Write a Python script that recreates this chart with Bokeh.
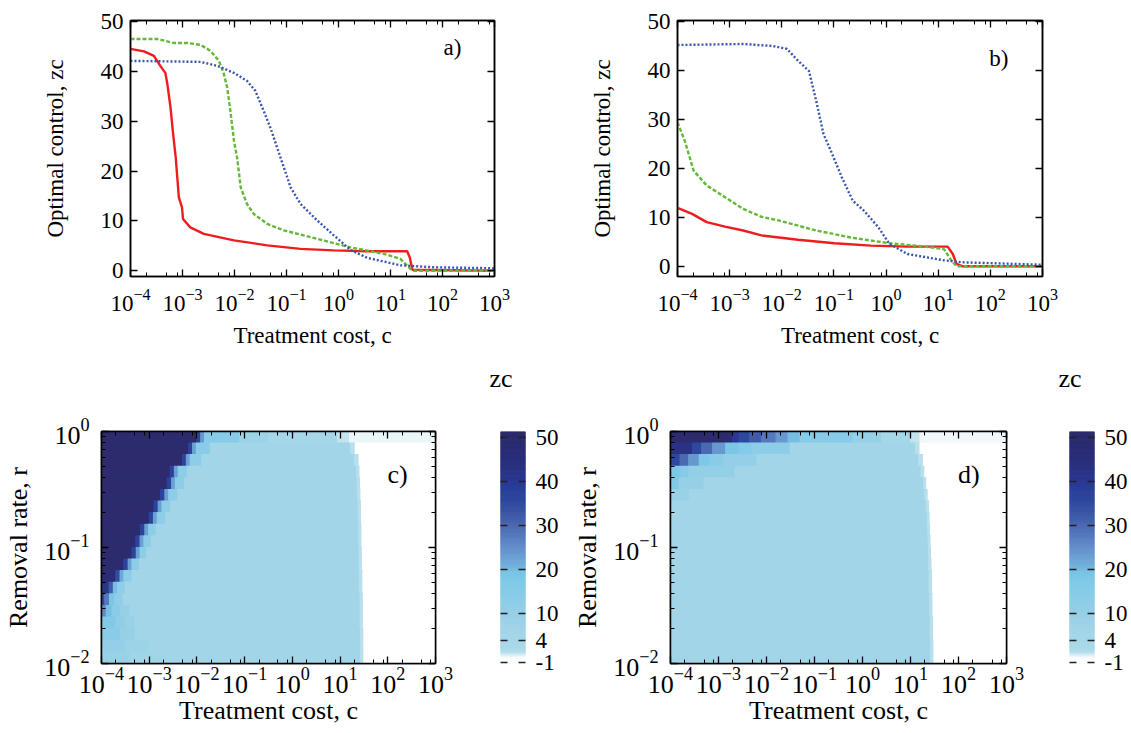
import numpy as np
from bokeh.plotting import figure
from bokeh.models import (LogAxis, LinearAxis, FixedTicker, Label, ColumnDataSource, Title,
                          LinearColorMapper, Range1d, LogTickFormatter, CustomJSTickFormatter)
from bokeh.layouts import column, row
from bokeh.embed import file_html
from bokeh.resources import INLINE

FONT = "Liberation Serif"

# ---------------- data: panel a (log10 of treatment cost, optimal control) ----------------
A_RED_LOGC = [-4.0, -3.74, -3.55, -3.42, -3.33, -3.29, -3.23, -3.18, -3.13, -3.10, -3.07, -3.01,
              -2.99, -2.85, -2.59, -2.01, -1.37, -0.73, -0.09, 0.55, 1.32, 1.37, 1.42, 3.0]
A_RED_ZC = [44.5, 44.0, 43.1, 41.0, 39.7, 37.4, 32.7, 27.4, 22.7, 18.7, 14.7, 12.7,
            10.4, 8.7, 7.4, 6.1, 5.1, 4.4, 4.1, 3.9, 3.9, 2.7, 0.2, 0.0]
A_GREEN_LOGC = [-4.0, -3.49, -3.17, -2.91, -2.65, -2.46, -2.30, -2.21, -2.14, -2.08, -2.01, -1.95,
                -1.88, -1.76, -1.63, -1.37, -1.05, -0.41, 0.23, 0.87, 1.19, 1.38, 1.45, 3.0]
A_GREEN_ZC = [46.5, 46.5, 45.7, 45.7, 45.3, 44.1, 42.1, 39.7, 36.7, 32.1, 26.1, 22.7,
              16.7, 13.4, 11.4, 9.4, 8.1, 6.4, 4.7, 3.4, 2.4, 0.4, 0.0, 0.0]
A_BLUE_LOGC = [-4.0, -2.65, -2.33, -2.01, -1.76, -1.60, -1.44, -1.31, -1.18, -1.05, -0.92, -0.73,
               -0.41, -0.09, 0.23, 0.55, 1.19, 1.83, 3.0]
A_BLUE_ZC = [42.1, 41.9, 41.1, 39.7, 38.1, 36.1, 32.1, 28.7, 24.7, 20.7, 16.7, 13.4,
             10.1, 7.1, 4.2, 2.6, 1.1, 0.7, 0.5]

# ---------------- data: panel b ----------------
B_RED_LOGC = [-4.0, -3.72, -3.44, -3.09, -2.74, -2.39, -1.69, -0.99, -0.29, 0.41, 1.18, 1.28, 1.35, 1.46, 3.0]
B_RED_ZC = [11.9, 10.7, 9.0, 8.1, 7.3, 6.3, 5.4, 4.7, 4.2, 4.0, 4.0, 2.5, 0.5, 0.0, 0.0]
B_GREEN_LOGC = [-4.0, -3.86, -3.69, -3.44, -3.09, -2.74, -2.39, -2.04, -1.34, -0.64, 0.06, 0.76, 1.11, 1.25, 1.35, 3.0]
B_GREEN_ZC = [29.4, 25.6, 19.5, 16.5, 14.1, 11.7, 10.1, 9.3, 7.3, 5.8, 4.7, 4.0, 3.5, 1.2, 0.0, 0.0]
B_BLUE_LOGC = [-4.0, -2.74, -2.18, -1.90, -1.69, -1.48, -1.34, -1.20, -1.06, -0.85, -0.64, -0.43,
               -0.15, 0.06, 0.41, 1.11, 1.46, 3.0]
B_BLUE_ZC = [45.2, 45.4, 45.0, 44.4, 42.0, 39.9, 33.8, 27.0, 23.6, 18.2, 13.4, 11.4,
             8.0, 4.6, 2.5, 1.2, 0.8, 0.3]

# ---------------- data: heat maps (rows from r=10^0 down to r=10^-2) ----------------
# each row: list of (right edge log10 c, zc) cells, starting at log10 c = -4
R_EDGES_LOG = [0.0, -0.1, -0.2, -0.3, -0.4, -0.5, -0.6, -0.7, -0.8, -0.9, -1.0,
               -1.1, -1.2, -1.3, -1.4, -1.5, -1.6, -1.7, -1.8, -1.9, -2.0]
C_ROWS = [
    [(-2.00, 50), (-1.92, 37), (-1.84, 24), (-1.10, 15), (-0.50, 8), (0.95, 4), (1.20, 1.2), (3.0, 0.5)],
    [(-2.17, 50), (-2.09, 37), (-2.01, 23), (-1.72, 14), (1.22, 6), (1.32, 1.5), (3.0, 0)],
    [(-2.30, 50), (-2.22, 37), (-2.14, 23), (-1.90, 13), (1.30, 6), (1.40, 1.5), (3.0, 0)],
    [(-2.56, 50), (-2.47, 37), (-2.39, 23), (-2.20, 13), (1.35, 6), (1.42, 1.5), (3.0, 0)],
    [(-2.62, 50), (-2.53, 37), (-2.45, 23), (-2.26, 13), (1.36, 6), (1.43, 1.5), (3.0, 0)],
    [(-2.76, 50), (-2.67, 37), (-2.59, 23), (-2.40, 13), (1.37, 6), (1.44, 1.5), (3.0, 0)],
    [(-2.90, 50), (-2.81, 37), (-2.73, 23), (-2.55, 13), (1.38, 6), (1.45, 1.5), (3.0, 0)],
    [(-3.00, 50), (-2.91, 37), (-2.83, 23), (-2.65, 13), (1.38, 6), (1.45, 1.5), (3.0, 0)],
    [(-3.18, 50), (-3.09, 37), (-3.01, 23), (-2.85, 13), (1.39, 6), (1.46, 1.5), (3.0, 0)],
    [(-3.28, 50), (-3.19, 37), (-3.11, 23), (-2.95, 13), (1.39, 6), (1.46, 1.5), (3.0, 0)],
    [(-3.36, 50), (-3.27, 37), (-3.19, 23), (-3.05, 13), (1.40, 6), (1.47, 1.5), (3.0, 0)],
    [(-3.53, 50), (-3.44, 37), (-3.36, 23), (-3.20, 13), (1.40, 6), (1.47, 1.5), (3.0, 0)],
    [(-3.70, 47), (-3.61, 35), (-3.53, 22), (-3.36, 13), (1.41, 6), (1.48, 1.5), (3.0, 0)],
    [(-3.84, 42), (-3.75, 32), (-3.66, 20), (-3.50, 12), (1.41, 6), (1.48, 1.5), (3.0, 0)],
    [(-3.93, 35), (-3.83, 28), (-3.72, 19), (-3.55, 12), (1.42, 6), (1.49, 1.5), (3.0, 0)],
    [(-3.90, 26), (-3.78, 20), (-3.60, 14), (-3.40, 10), (1.42, 6), (1.49, 1.5), (3.0, 0)],
    [(-3.70, 17), (-3.50, 12), (-3.30, 9), (1.42, 6), (1.49, 1.5), (3.0, 0)],
    [(-3.60, 14), (-3.30, 10), (1.43, 6), (1.50, 1.5), (3.0, 0)],
    [(-3.50, 11), (-3.00, 8), (1.43, 6), (1.50, 1.5), (3.0, 0)],
    [(-3.40, 9), (-2.80, 7), (1.43, 6), (1.50, 1.5), (3.0, 0)],
]
D_ROWS = [
    [(-2.71, 50), (-2.57, 40), (-2.35, 36), (-2.10, 32), (-1.80, 28), (-1.55, 24), (-1.30, 20),
     (-0.20, 15), (0.40, 10), (1.00, 4), (1.20, 1.2), (3.0, 0.4)],
    [(-3.54, 43), (-3.35, 36), (-3.12, 30), (-2.85, 24), (-2.57, 19), (-2.30, 16), (-1.50, 13),
     (1.10, 6), (1.20, 1.5), (3.0, 0)],
    [(-3.80, 36), (-3.62, 30), (-3.40, 24), (-3.18, 18), (-2.90, 14), (-2.20, 11), (1.17, 6), (1.27, 1.5), (3.0, 0)],
    [(-3.78, 18), (-3.62, 15), (-2.65, 11), (1.22, 6), (1.30, 1.5), (3.0, 0)],
    [(-3.82, 17), (-3.30, 10), (1.27, 6), (1.34, 1.5), (3.0, 0)],
    [(-3.60, 9), (1.30, 6), (1.37, 1.5), (3.0, 0)],
    [(1.33, 6), (1.40, 1.5), (3.0, 0)],
    [(1.35, 6), (1.41, 1.5), (3.0, 0)],
    [(1.36, 6), (1.42, 1.5), (3.0, 0)],
    [(1.37, 6), (1.43, 1.5), (3.0, 0)],
    [(1.38, 6), (1.44, 1.5), (3.0, 0)],
    [(1.38, 6), (1.45, 1.5), (3.0, 0)],
    [(1.39, 6), (1.46, 1.5), (3.0, 0)],
    [(1.39, 6), (1.46, 1.5), (3.0, 0)],
    [(1.40, 6), (1.47, 1.5), (3.0, 0)],
    [(1.40, 6), (1.47, 1.5), (3.0, 0)],
    [(1.41, 6), (1.48, 1.5), (3.0, 0)],
    [(1.41, 6), (1.48, 1.5), (3.0, 0)],
    [(1.42, 6), (1.49, 1.5), (3.0, 0)],
    [(1.42, 6), (1.49, 1.5), (3.0, 0)],
]
X_MIN_LOG = -4.0

# ---------------- ticks / labels ----------------
X_MAJOR_EXP = [-4, -3, -2, -1, 0, 1, 2, 3]
X_MINOR_MULT = [2, 5, 8]
R_MAJOR_EXP = [-2, -1, 0]
R_MINOR_MULT = [2, 3, 4, 5, 6, 7, 8, 9]
Y_LINE_TICKS = [0, 10, 20, 30, 40, 50]
CB_TICKS = [-1, 4, 10, 20, 30, 40, 50]
CB_LABELS = ["-1", "4", "10", "20", "30", "40", "50"]

# ---------------- colour map ----------------
CMAP_STOPS = [(-1.0, "#ffffff"), (0.0, "#ffffff"), (0.6, "#e4f2f7"), (1.2, "#c0e3ee"), (1.8, "#acdaea"),
              (4.0, "#a6d7e8"), (7.0, "#a0d4e7"), (10.0, "#96d0e7"), (14.0, "#8acce8"), (17.5, "#7ecae8"),
              (19.5, "#7ac4e4"), (21.0, "#72b0dc"), (23.0, "#6ba0d4"), (26.0, "#6088c8"), (29.0, "#5170b8"),
              (32.0, "#405ca9"), (35.5, "#2f49a0"), (39.0, "#293c98"), (42.0, "#2a3488"), (45.0, "#2a2e7a"),
              (49.0, "#2b2b70"), (51.3, "#2b2a6b")]
CB_LOW, CB_HIGH = -1.21, 51.3


def build_palette(n=512):
    vs = np.array([s[0] for s in CMAP_STOPS])
    rgb = np.array([[int(s[1][i:i + 2], 16) for i in (1, 3, 5)] for s in CMAP_STOPS], dtype=float)
    grid = np.linspace(CB_LOW, CB_HIGH, n)
    out = []
    for g in grid:
        r = np.interp(g, vs, rgb[:, 0]); gg = np.interp(g, vs, rgb[:, 1]); b = np.interp(g, vs, rgb[:, 2])
        out.append("#%02x%02x%02x" % (int(round(r)), int(round(gg)), int(round(b))))
    return out


MAPPER = LinearColorMapper(palette=build_palette(), low=CB_LOW, high=CB_HIGH)

EMPTY_JS = "return '';"


def style_axis(ax, font_px, show_labels=True):
    ax.axis_line_width = 1.5
    ax.axis_line_color = "black"
    ax.major_tick_in = 7
    ax.major_tick_out = 0
    ax.minor_tick_in = 4
    ax.minor_tick_out = 0
    ax.major_tick_line_width = 1.3
    ax.minor_tick_line_width = 1.0
    ax.major_tick_line_color = "black"
    ax.minor_tick_line_color = "black"
    ax.major_label_text_font = FONT
    ax.major_label_text_color = "black"
    ax.axis_label_text_font = FONT
    ax.axis_label_text_font_style = "normal"
    ax.axis_label_text_color = "black"
    ax.axis_label_text_font_size = f"{font_px}px"
    if show_labels:
        ax.major_label_text_font_size = f"{font_px}px"
    else:
        ax.formatter = CustomJSTickFormatter(code=EMPTY_JS)
        ax.major_label_text_font_size = "2px"
        ax.major_label_standoff = 0


def x_ticker():
    majors = [10.0 ** e for e in X_MAJOR_EXP]
    minors = [m * 10.0 ** e for e in X_MAJOR_EXP[:-1] for m in X_MINOR_MULT]
    return FixedTicker(ticks=majors, minor_ticks=minors)


def r_ticker():
    majors = [10.0 ** e for e in R_MAJOR_EXP]
    minors = [m * 10.0 ** e for e in R_MAJOR_EXP[:-1] for m in R_MINOR_MULT]
    return FixedTicker(ticks=majors, minor_ticks=minors)


def base_fig(width, height, left, right, top, bottom, **kw):
    p = figure(width=width, height=height, min_border_left=left, min_border_right=right,
               min_border_top=top, min_border_bottom=bottom, output_backend="svg",
               toolbar_location=None, title=None, **kw)
    p.grid.visible = False
    p.outline_line_color = "black"
    p.outline_line_width = 1.5
    p.background_fill_color = "white"
    p.border_fill_color = "white"
    return p


def line_panel(width, left, right, yr, series, tag, tag_logx, tag_y):
    p = base_fig(width, 360, left, right, 20, 84, x_axis_type="log",
                 x_range=Range1d(1e-4, 1e3), y_range=Range1d(*yr))
    xa = p.xaxis[0]
    xa.ticker = x_ticker()
    xa.formatter = LogTickFormatter()
    style_axis(xa, 23)
    xa.major_label_standoff = 12
    xa.axis_label = "Treatment cost, c"
    xa.axis_label_standoff = 9
    ya = p.yaxis[0]
    ya.ticker = FixedTicker(ticks=Y_LINE_TICKS, minor_ticks=[])
    style_axis(ya, 23)
    ya.major_label_standoff = 7
    ya.axis_label = "Optimal control, zc"
    ya.axis_label_standoff = 30
    top_ax = LogAxis(ticker=x_ticker())
    style_axis(top_ax, 23, show_labels=False)
    p.add_layout(top_ax, "above")
    right_ax = LinearAxis(ticker=FixedTicker(ticks=Y_LINE_TICKS, minor_ticks=[]))
    style_axis(right_ax, 23, show_labels=False)
    p.add_layout(right_ax, "right")
    for logc, zc, color, dash in series:
        p.line(x=[10.0 ** v for v in logc], y=zc, line_color=color, line_width=2.4, line_dash=dash)
    p.add_layout(Label(x=10.0 ** tag_logx, y=tag_y, text=tag, text_font=FONT, text_font_size="23px",
                       text_baseline="middle", text_align="left", text_color="black"))
    return p


def heat_source(rows):
    L, R, B, T, Z = [], [], [], [], []
    for t, segs in enumerate(rows):
        start = X_MIN_LOG
        for end, z in segs:
            L.append(10.0 ** start); R.append(10.0 ** end)
            T.append(10.0 ** R_EDGES_LOG[t]); B.append(10.0 ** R_EDGES_LOG[t + 1]); Z.append(z)
            start = end
    return ColumnDataSource(dict(left=L, right=R, bottom=B, top=T, z=Z))


def heat_panel(width, left, right, rows, tag, tag_logx):
    p = base_fig(width, 373, left, right, 69, 70, x_axis_type="log", y_axis_type="log",
                 x_range=Range1d(1e-4, 1e3), y_range=Range1d(1e-2, 1.0))
    src = heat_source(rows)
    p.quad(left="left", right="right", bottom="bottom", top="top", source=src,
           fill_color={"field": "z", "transform": MAPPER},
           line_color={"field": "z", "transform": MAPPER}, line_width=1.2)
    xa = p.xaxis[0]
    xa.ticker = x_ticker()
    xa.formatter = LogTickFormatter()
    style_axis(xa, 26)
    xa.major_label_standoff = 4
    xa.axis_label = "Treatment cost, c"
    xa.axis_label_standoff = 0
    ya = p.yaxis[0]
    ya.ticker = r_ticker()
    ya.formatter = LogTickFormatter()
    style_axis(ya, 26)
    ya.major_label_standoff = 12
    ya.axis_label = "Removal rate, r"
    ya.axis_label_standoff = 8
    top_ax = LogAxis(ticker=x_ticker())
    style_axis(top_ax, 26, show_labels=False)
    p.add_layout(top_ax, "above")
    right_ax = LogAxis(ticker=r_ticker())
    style_axis(right_ax, 26, show_labels=False)
    p.add_layout(right_ax, "right")
    p.add_layout(Label(x=10.0 ** tag_logx, y=10.0 ** -0.368, text=tag, text_font=FONT,
                       text_font_size="26px", text_align="left", text_baseline="middle",
                       text_color="black"))
    return p


def cbar_panel(width, bar_left):
    bar_w = 25
    p = figure(width=width, height=373, x_range=Range1d(0, 1), y_range=Range1d(CB_LOW, CB_HIGH),
               min_border_left=bar_left, min_border_right=width - bar_left - bar_w,
               min_border_top=69, min_border_bottom=70, x_axis_location=None, y_axis_location=None,
               output_backend="svg", toolbar_location=None, title=None)
    p.grid.visible = False
    p.outline_line_color = None
    p.background_fill_color = "white"
    p.border_fill_color = "white"
    # spacer between the frame and the "zc" heading
    p.add_layout(Title(text=" ", text_font_size="4px", standoff=31), "above")
    p.add_layout(Title(text="zc", text_font=FONT, text_font_size="26px", text_font_style="normal",
                       text_color="black", align="left", offset=-11, standoff=2), "above")
    edges = np.linspace(CB_LOW, CB_HIGH, 211)
    src = ColumnDataSource(dict(bottom=edges[:-1], top=edges[1:], z=0.5 * (edges[:-1] + edges[1:])))
    p.quad(left=0, right=1, bottom="bottom", top="top", source=src,
           fill_color={"field": "z", "transform": MAPPER},
           line_color={"field": "z", "transform": MAPPER}, line_width=1.0)
    for side, show in (("left", False), ("right", True)):
        ax = LinearAxis(ticker=FixedTicker(ticks=CB_TICKS, minor_ticks=[]))
        ax.axis_line_color = None
        ax.major_tick_in = 7
        ax.major_tick_out = 0
        ax.minor_tick_in = 0
        ax.minor_tick_out = 0
        ax.major_tick_line_color = "#222222"
        ax.major_tick_line_width = 1.5
        ax.major_label_text_font = FONT
        ax.major_label_text_color = "black"
        if show:
            ax.major_label_text_font_size = "23px"
            ax.major_label_standoff = 10
            ax.major_label_overrides = dict(zip(CB_TICKS, CB_LABELS))
        else:
            ax.formatter = CustomJSTickFormatter(code=EMPTY_JS)
            ax.major_label_text_font_size = "2px"
            ax.major_label_standoff = 0
        p.add_layout(ax, side)
    return p


RED, GREEN, BLUE = "#ee1d1d", "#64b83a", "#3656ad"

pa = line_panel(560, 130, 66, (-1.15, 50.2),
                [(A_RED_LOGC, A_RED_ZC, RED, "solid"),
                 (A_GREEN_LOGC, A_GREEN_ZC, GREEN, "4 2"),
                 (A_BLUE_LOGC, A_BLUE_ZC, BLUE, "2 2")],
                "a)", 2.02, 44.8)
pb = line_panel(571, 117, 89, (-2.1, 50.2),
                [(B_RED_LOGC, B_RED_ZC, RED, "solid"),
                 (B_GREEN_LOGC, B_GREEN_ZC, GREEN, "4 2"),
                 (B_BLUE_LOGC, B_BLUE_ZC, BLUE, "2 2")],
                "b)", 1.98, 42.5)
pc = heat_panel(480, 101, 45, C_ROWS, "c)", 1.995)
cbc = cbar_panel(85, 20)
pd = heat_panel(475, 105, 34, D_ROWS, "d)", 1.99)
cbd = cbar_panel(91, 29)

layout = column(row(pa, pb, spacing=0), row(pc, cbc, pd, cbd, spacing=0), spacing=0)
open("out.html", "w").write(file_html(layout, INLINE))
